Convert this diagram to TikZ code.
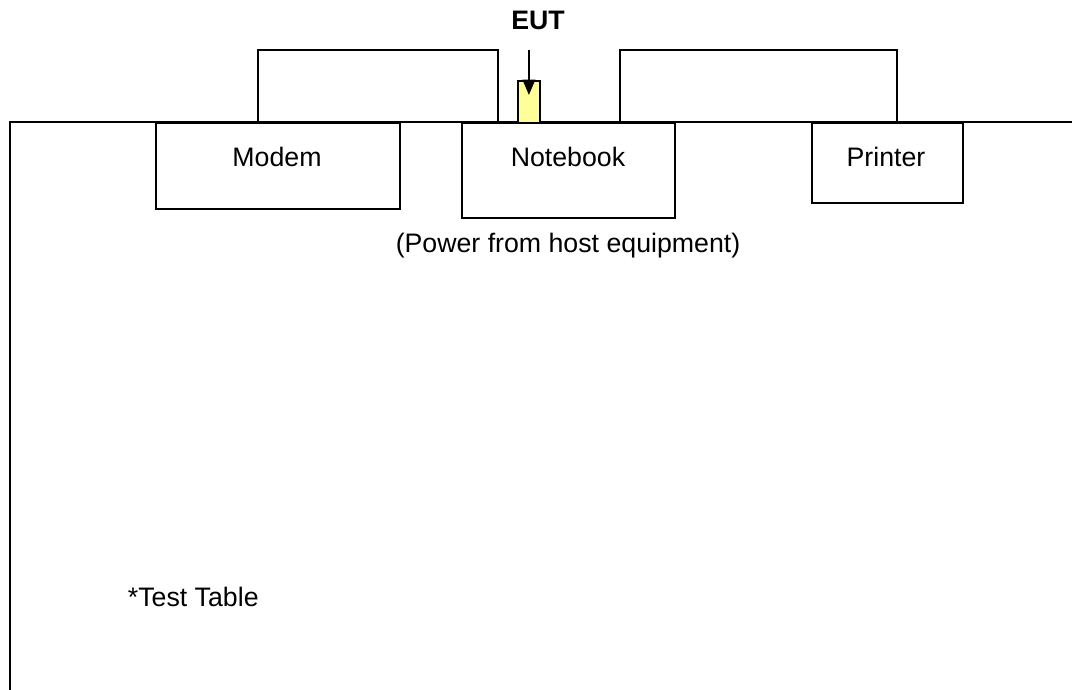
\documentclass[tikz,border=0pt]{standalone}
\usepackage{fontspec}
\setmainfont{Liberation Sans}
\usetikzlibrary{arrows.meta, calc}
\definecolor{eutyellow}{HTML}{FFFF99}
\tikzset{box/.style={draw, line width=1.3pt, inner sep=0pt, anchor=north west},
  txt/.style={font=\fontsize{19}{23}\selectfont, inner sep=0pt}}

\begin{document}
\begin{tikzpicture}[x=0.025cm, y=-0.025cm, line width=1.3pt]
\useasboundingbox (0,0) rectangle (1072,690);
% test table
\draw (1072,122) -- (10,122) -- (10,690);
% equipment
\node[box, minimum width=6.1cm, minimum height=2.15cm] (modem) at (155,122) {};
\node[box, minimum width=5.325cm, minimum height=2.375cm] (notebook) at (461,122) {};
\node[box, minimum width=3.775cm, minimum height=2.0cm] (printer) at (811,122) {};
\node[box, fill=eutyellow, minimum width=0.55cm, minimum height=1.05cm] (eut) at (517,80) {};
% texts
\node[txt] (modemlbl) at (277,157) {Modem};
\node[txt] (notebooklbl) at (568,157) {Notebook};
\node[txt] (printerlbl) at (886,157) {Printer};
\node[txt] (power) at (568,246) {(Power from host equipment)};
\node[txt, anchor=west] (table) at (127,597) {*Test Table};
\node[txt, font=\fontsize{19}{23}\selectfont\bfseries] (eutlbl) at (538,20) {EUT};
% cables
\draw ($(modem.north)+(-20,0)$) -- ++(0,-72) -| ($(notebook.north)+(-70.5,0)$);
\draw ($(notebook.north)+(51.5,0)$) -- ++(0,-72) -| ($(printer.north)+(9.5,0)$);
% pointer to the EUT
\coordinate (arrtop) at ($(eut.north)+(0,-30)$);
\coordinate (arrtip) at ($(eut.north)+(0,15)$);
\draw[-{Triangle[length=11pt, width=9pt]}] (arrtop) -- (arrtip);
\end{tikzpicture}
\end{document}
